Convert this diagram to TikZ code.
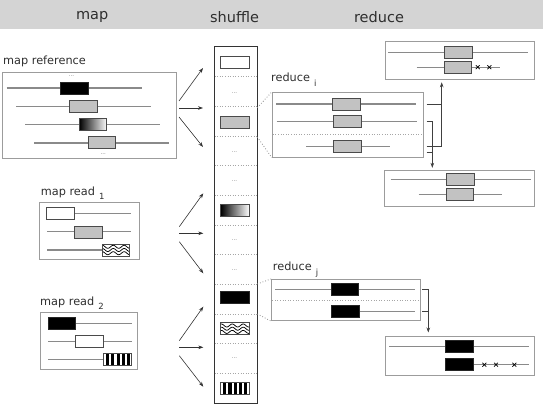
\documentclass[tikz,border=0pt]{standalone}
\usepackage{fontspec}
\setmainfont{DejaVu Sans}
\usetikzlibrary{arrows.meta,shapes.misc}
\definecolor{hdr}{HTML}{D4D4D4}
\definecolor{lngray}{HTML}{8A8A8A}
\definecolor{bxedge}{HTML}{4A4A4A}
\definecolor{gfill}{HTML}{C2C2C2}
\definecolor{frm}{HTML}{9C9C9C}
\definecolor{txt}{HTML}{2E2E2E}
\tikzset{
  frame/.style={draw=frm, line width=0.9pt, inner sep=0pt},
  ln/.style={draw=lngray, line width=1.1pt},
  bx/.style={draw=bxedge, line width=0.9pt, inner sep=0pt, minimum width=27.8pt, minimum height=12pt},
  whitebx/.style={bx, fill=white},
  graybx/.style={bx, fill=gfill},
  blackbx/.style={bx, fill=black, draw=black!85},
  gradbx/.style={bx, left color=black, right color=white},
  wavebx/.style={bx, fill=white, path picture={
     \foreach \yy in {-3.2,0,3.2}
       \draw[black, line width=0.75pt, shift={(path picture bounding box.center)}]
         plot[domain=-15:15, samples=60, smooth] (\x, {\yy+1.5*sin(\x*33)});}},
  stripebx/.style={bx, fill=white, path picture={
     \foreach \k in {0,...,4}
       \fill[black] ([xshift={2.4pt+5.3pt*\k}]path picture bounding box.south west) rectangle ++(3.1,-12);}},
  cell/.style={draw=black!35, line width=0.6pt, dotted},
  link/.style={draw=black!45, line width=0.8pt, dotted},
  arr/.style={draw=black!80, line width=0.6pt, -{Stealth[length=5pt,width=3.6pt]}},
  brk/.style={draw=black!75, line width=0.6pt},
  brkarr/.style={brk, -{Stealth[length=5pt,width=3.6pt]}},
  dotsl/.style={text=black!55, font=\fontsize{5.5}{5.5}\selectfont, inner sep=0pt},
  hdrtxt/.style={text=txt, font=\fontsize{14.5}{16}\selectfont, anchor=base, inner sep=0pt},
  lbl/.style={text=txt, font=\fontsize{11.3}{13}\selectfont, anchor=base west, inner sep=0pt},
  xm/.style={cross out, draw=black, line width=0.7pt, minimum size=3.2pt, inner sep=0pt},
}
\newcommand{\subl}[1]{\hspace{4pt}\raisebox{-4.5pt}{\fontsize{8.5}{8.5}\selectfont #1}}
\begin{document}
\begin{tikzpicture}[x=1pt,y=-1pt]
\useasboundingbox (0,0) rectangle (543,412);
% header
\fill[hdr] (0,0) rectangle (543,29.5);
\node[hdrtxt] (hmap) at (92.2,20) {map};
\node[hdrtxt] (hshuf) at (234.5,22.3) {shuffle};
\node[hdrtxt] (hred) at (379,22.3) {reduce};

% ---------- map reference ----------
\node[lbl] (lmref) at (3,64) {map reference};
\node[frame, minimum width=173.7pt, minimum height=85.6pt] (mref) at (89.15,115.5) {};
\draw[ln] (6.7,88) -- (142,88);
\draw[ln] (16,106.3) -- (151,106.3);
\draw[ln] (25.3,124.7) -- (160,124.7);
\draw[ln] (34.3,143) -- (169,143);
\node[blackbx] (mrb1) at (74.5,88) {};
\node[graybx] (mrb2) at (83.7,106.3) {};
\node[gradbx] (mrb3) at (93,124.5) {};
\node[graybx] (mrb4) at (102,142.8) {};
\node[dotsl] (mrd1) at (71.5,76.3) {...};
\node[dotsl] (mrd2) at (103.3,154.5) {...};

% ---------- map read 1 ----------
\node[lbl] (lmr1) at (40.7,195) {map read\subl{1}};
\node[frame, minimum width=100pt, minimum height=56.7pt] (mr1) at (89.3,230.65) {};
\draw[ln] (46.3,213.5) -- (130.7,213.5);
\draw[ln] (47.3,231.9) -- (130.7,231.9);
\draw[ln] (47.3,250) -- (102,250);
\node[whitebx] (r1b1) at (60.8,213.6) {};
\node[graybx] (r1b2) at (88.8,232.1) {};
\node[wavebx] (r1b3) at (116,250) {};

% ---------- map read 2 ----------
\node[lbl] (lmr2) at (40,305) {map read\subl{2}};
\node[frame, minimum width=96.6pt, minimum height=56.6pt] (mr2) at (89,341) {};
\draw[ln] (47.7,323.3) -- (132.3,323.3);
\draw[ln] (48.3,341.3) -- (132.3,341.3);
\draw[ln] (48.3,359.6) -- (103.3,359.6);
\node[blackbx] (r2b1) at (62,323.3) {};
\node[whitebx] (r2b2) at (89.8,341.3) {};
\node[stripebx] (r2b3) at (117.5,359.5) {};

% ---------- shuffle column ----------
\node[draw=black!80, line width=1pt, inner sep=0pt, minimum width=43pt, minimum height=356pt] (shuf) at (235.5,225) {};
\foreach \k in {1,...,11}
  \draw[cell] (214.5,{47+29.667*\k}) -- (256.5,{47+29.667*\k});
\node[whitebx, minimum width=28.6pt] (s1) at (235,62.3) {};
\node[dotsl] (s2) at (234.5,92.8) {...};
\node[graybx, minimum width=28.6pt] (s3) at (235,122) {};
\node[dotsl] (s4) at (234.5,152) {...};
\node[dotsl] (s5) at (234.5,181.5) {...};
\node[gradbx, minimum width=28.6pt] (s6) at (235,210.8) {};
\node[dotsl] (s7) at (234.5,240.5) {...};
\node[dotsl] (s8) at (234.5,270) {...};
\node[blackbx, minimum width=28.6pt] (s9) at (235,297.8) {};
\node[wavebx, minimum width=28.6pt] (s10) at (235,328.7) {};
\node[dotsl] (s11) at (234.5,358.5) {...};
\node[stripebx, minimum width=28.6pt] (s12) at (235,388.3) {};

% arrows map -> shuffle
\coordinate (a1s) at (179,101);   \coordinate (a1e) at (203,68);
\coordinate (a2s) at (179,108);   \coordinate (a2e) at (203,108);
\coordinate (a3s) at (179,117);   \coordinate (a3e) at (203,147);
\coordinate (b1s) at (179.3,226.7); \coordinate (b1e) at (203.3,193.3);
\coordinate (b2s) at (179.3,233.3); \coordinate (b2e) at (203.3,233.3);
\coordinate (b3s) at (179.3,241.7); \coordinate (b3e) at (203.3,273.3);
\coordinate (c1s) at (179.3,340.7); \coordinate (c1e) at (203.3,306.7);
\coordinate (c2s) at (179.3,347.3); \coordinate (c2e) at (203.3,347.3);
\coordinate (c3s) at (179.3,355.7); \coordinate (c3e) at (203.3,386.7);
\foreach \p in {a,b,c}
  \foreach \q in {1,2,3}
    \draw[arr] (\p\q s) -- (\p\q e);

% ---------- reduce i ----------
\node[lbl] (lredi) at (271,81.7) {reduce\subl{i}};
\node[frame, minimum width=151pt, minimum height=65pt] (redi) at (347.8,124.8) {};
\draw[ln] (276,104) -- (416,104);
\draw[ln] (276.7,121.3) -- (417.3,121.3);
\draw[cell] (272.8,134.3) -- (422.8,134.3);
\draw[ln] (306,146.3) -- (390,146.3);
\node[graybx] (rib1) at (346.5,104) {};
\node[graybx] (rib2) at (347.3,121.4) {};
\node[graybx] (rib3) at (347.8,146.4) {};

% output i top
\node[frame, minimum width=149pt, minimum height=37.3pt] (outa) at (459.5,60.35) {};
\draw[ln] (388.3,52.7) -- (528.3,52.7);
\draw[ln] (416.7,67.2) -- (500,67.2);
\node[graybx] (oab1) at (458.5,52.7) {};
\node[graybx] (oab2) at (458,67.4) {};
\node[xm] (oax1) at (477.7,67.2) {};
\node[xm] (oax2) at (489.3,67.2) {};

% output i bottom
\node[frame, minimum width=150pt, minimum height=36.7pt] (outb) at (459,188.35) {};
\draw[ln] (390.7,179.7) -- (530.7,179.7);
\draw[ln] (418.7,194.4) -- (502.3,194.4);
\node[graybx] (obb1) at (460.3,179.8) {};
\node[graybx] (obb2) at (460,194.5) {};

% brackets i
\coordinate (ki1) at (426.7,104);    \coordinate (ki1e) at (441.7,104);
\coordinate (ki3) at (426.7,146.7);  \coordinate (kitop) at (441.7,82.3);
\coordinate (ki2) at (426.7,121.3);  \coordinate (kibot) at (432.3,167.8);
\coordinate (ki4) at (426.7,152.7);  \coordinate (ki4e) at (432.3,152.7);
\draw[brk] (ki1) -- (ki1e);
\draw[brkarr] (ki3) -| (kitop);
\draw[brkarr] (ki2) -| (kibot);
\draw[brk] (ki4) -- (ki4e);

% ---------- reduce j ----------
\node[lbl] (lredj) at (272.7,270.7) {reduce\subl{j}};
\node[frame, minimum width=148.3pt, minimum height=41.4pt] (redj) at (345.85,300) {};
\draw[ln] (275,289.3) -- (415,289.3);
\draw[cell] (272.2,300) -- (419.5,300);
\draw[ln] (331,311.3) -- (415,311.3);
\node[blackbx] (rjb1) at (345,289.2) {};
\node[blackbx] (rjb2) at (345.2,311.4) {};

% output j
\node[frame, minimum width=149pt, minimum height=39pt] (outc) at (459.5,356.2) {};
\draw[ln] (389,346.7) -- (529.3,346.7);
\draw[ln] (460,364.7) -- (529.3,364.7);
\node[blackbx] (ocb1) at (459.3,346.8) {};
\node[blackbx] (ocb2) at (459.6,364.7) {};
\node[xm] (ocx1) at (484.3,364.7) {};
\node[xm] (ocx2) at (496,364.7) {};
\node[xm] (ocx3) at (514.3,364.7) {};

% bracket j
\coordinate (kj1) at (422.3,289.3);  \coordinate (kjbot) at (428.3,332.5);
\coordinate (kj2) at (422.3,311.3);  \coordinate (kj2e) at (428.3,311.3);
\draw[brkarr] (kj1) -| (kjbot);
\draw[brk] (kj2) -- (kj2e);

% dotted links shuffle -> reduce
\coordinate (li1) at (257.3,107.7);
\coordinate (li2) at (257.3,137);
\coordinate (lj1) at (257.3,284);
\coordinate (lj2) at (257.3,314);
\draw[link] (li1) -- (redi.north west);
\draw[link] (li2) -- (redi.south west);
\draw[link] (lj1) -- (redj.north west);
\draw[link] (lj2) -- (redj.south west);
\end{tikzpicture}
\end{document}
